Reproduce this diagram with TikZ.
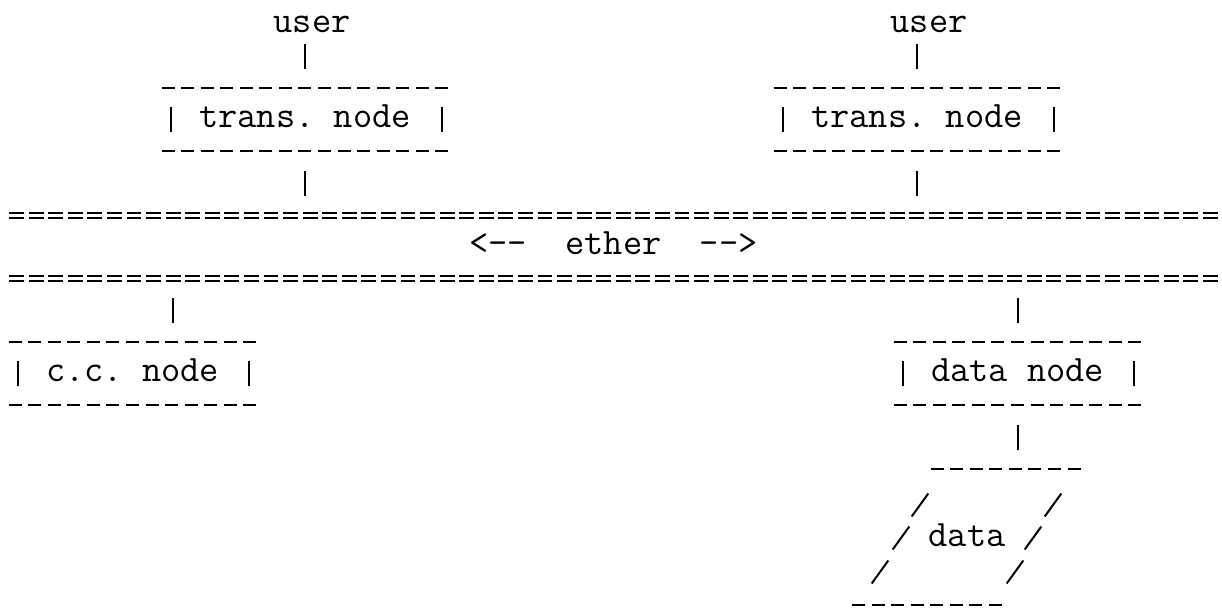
\documentclass[tikz,border=0pt]{standalone}
\usepackage{tikz}
\usetikzlibrary{calc}
\newcommand{\typer}{\ttfamily\fontsize{37.3}{40}\selectfont\frenchspacing}
\tikzstyle{wire}=[line width=2pt, shorten <=3.4pt, shorten >=3.4pt]
\tikzstyle{vbar}=[line width=2pt]
\tikzstyle{slantbar}=[line width=2pt]
\tikzstyle{dashrow}=[line width=2pt, dash pattern=on 13pt off 6.57pt]
\tikzstyle{eqrow}=[line width=2pt, double=white, double distance=3pt, dash pattern=on 14.8pt off 4.77pt]
\tikzstyle{word}=[rectangle, inner sep=0pt, font=\typer, text height=16pt, text depth=0pt, minimum height=31.75pt]
\tikzstyle{asciibox}=[word, minimum height=95.25pt, path picture={
    \draw[dashrow] ([yshift=-15.9pt]path picture bounding box.north west) -- ([yshift=-15.9pt]path picture bounding box.north east);
    \draw[dashrow] ([yshift=15.9pt]path picture bounding box.south west) -- ([yshift=15.9pt]path picture bounding box.south east);
    \draw[vbar] ([xshift=9pt, yshift=12.5pt]path picture bounding box.west) -- ([xshift=9pt, yshift=-12.5pt]path picture bounding box.west);
    \draw[vbar] ([xshift=-7pt, yshift=12.5pt]path picture bounding box.east) -- ([xshift=-7pt, yshift=-12.5pt]path picture bounding box.east);
  }]
\tikzstyle{bus}=[word, minimum height=95.25pt, minimum width=1208.6pt, path picture={
    \draw[eqrow] ([yshift=-15.9pt]path picture bounding box.north west) -- ([yshift=-15.9pt]path picture bounding box.north east);
    \draw[eqrow] ([yshift=15.9pt]path picture bounding box.south west) -- ([yshift=15.9pt]path picture bounding box.south east);
  }]
\tikzstyle{datastore}=[word, minimum width=232pt, minimum height=169.8pt]

\begin{document}
\begin{tikzpicture}[x=1pt, y=-1pt]
      \useasboundingbox (0,0) rectangle (1222,607);
      \node(user1) [word] at (312, 24.5){user};
      \node(user2) [word] at (929, 24.5){user};
      \node(trans1) [asciibox, minimum width=287pt] at (305, 119.75){trans. node};
      \node(trans2) [asciibox, minimum width=287pt] at (917, 119.75){trans. node};
      \node(ether) [bus] at (613.5, 246.75){<-{}-~~ether~~-{}->};
      \node(ccnode) [asciibox, minimum width=247.8pt] at (132.5, 373.75){c.c. node};
      \node(datanode) [asciibox, minimum width=247.8pt] at (1017.5, 373.75){data node};
      \node(store) [datastore] at (967, 538){data};
      \begin{scope}[shift={(store.center)}]
        \draw[dashrow] (-36.5,-69) -- (113.5,-69);
        \draw[dashrow] (-115,67) -- (35,67);
        \foreach \dx/\dy in {-47/-33, -66/0, -87/34, 86/-33, 66/0, 48/34}
          \draw[slantbar] (\dx-8.3,\dy+11.5) -- (\dx+8.3,\dy-11.5);
      \end{scope}
      \coordinate(ccport) at ([xshift=40.5pt]ccnode.north);
      \draw[wire] (trans1.north |- user1.south) to (trans1.north);
      \draw[wire] (trans2.north |- user2.south) to (trans2.north);
      \draw[wire] (trans1.south) to (trans1.south |- ether.north);
      \draw[wire] (trans2.south) to (trans2.south |- ether.north);
      \draw[wire] (ccport |- ether.south) to (ccport);
      \draw[wire] (datanode.north |- ether.south) to (datanode.north);
      \draw[wire] (datanode.south) to (datanode.south |- store.north);
\end{tikzpicture}
\end{document}
